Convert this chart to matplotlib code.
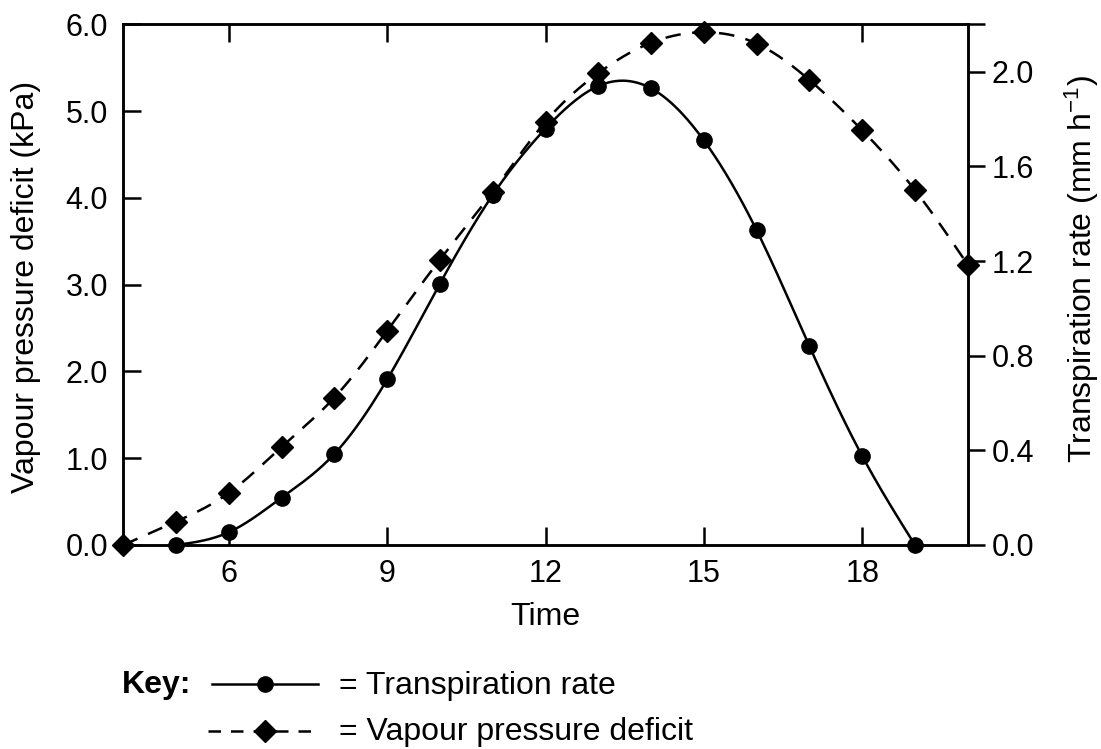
import numpy as np
import matplotlib
matplotlib.use("Agg")
import matplotlib.pyplot as plt
from matplotlib.lines import Line2D
from matplotlib.ticker import FormatStrFormatter

# ---- data ----
trans_hours = [5, 6, 7, 8, 9, 10, 11, 12, 13, 14, 15, 16, 17, 18, 19]
transpiration = [0.0, 0.054, 0.20, 0.385, 0.70, 1.105, 1.48, 1.76, 1.94, 1.93,
                 1.71, 1.33, 0.84, 0.376, 0.0]          # mm h-1 (right axis)
vpd_hours = [4, 5, 6, 7, 8, 9, 10, 11, 12, 13, 14, 15, 16, 17, 18, 19, 20]
vpd = [0.0, 0.27, 0.60, 1.13, 1.70, 2.47, 3.29, 4.07, 4.88, 5.44, 5.79, 5.91,
       5.78, 5.36, 4.78, 4.09, 3.23]                     # kPa (left axis)
x_ticks = [6, 9, 12, 15, 18]
left_ticks = [0.0, 1.0, 2.0, 3.0, 4.0, 5.0, 6.0]
right_ticks = [0.0, 0.4, 0.8, 1.2, 1.6, 2.0]


def natural_spline(x, y, n=400):
    """Smooth curve through the points (natural cubic spline) for drawing."""
    x = np.asarray(x, float)
    y = np.asarray(y, float)
    m = len(x)
    h = np.diff(x)
    A = np.zeros((m, m))
    r = np.zeros(m)
    A[0, 0] = A[-1, -1] = 1.0
    for i in range(1, m - 1):
        A[i, i - 1] = h[i - 1]
        A[i, i] = 2 * (h[i - 1] + h[i])
        A[i, i + 1] = h[i]
        r[i] = 3 * ((y[i + 1] - y[i]) / h[i] - (y[i] - y[i - 1]) / h[i - 1])
    c = np.linalg.solve(A, r)
    b = (y[1:] - y[:-1]) / h - h * (2 * c[:-1] + c[1:]) / 3
    d = (c[1:] - c[:-1]) / (3 * h)
    xs = np.linspace(x[0], x[-1], n)
    idx = np.clip(np.searchsorted(x, xs, side="right") - 1, 0, m - 2)
    t = xs - x[idx]
    ys = y[idx] + b[idx] * t + c[idx] * t ** 2 + d[idx] * t ** 3
    return xs, ys


plt.rcParams['font.family'] = ['Liberation Sans', 'DejaVu Sans']
plt.rcParams['mathtext.default'] = 'regular'

FS = 22
LFS = 23
LW = 1.8
SPINE_LW = 1.8
DASH = (0, (6.2, 4.6))

fig = plt.figure(figsize=(11.01, 7.49), dpi=100)
ax = fig.add_axes([0.112, 0.2724, 0.767, 0.6949])
ax2 = ax.twinx()

# curves
xs, ys = natural_spline(vpd_hours, vpd)
ax.plot(xs, ys, color='black', lw=LW, linestyle=DASH)
ax.plot(vpd_hours, vpd, linestyle='none', marker='D', ms=11.5, color='black',
        clip_on=False, zorder=5)

xs2, ys2 = natural_spline(trans_hours, transpiration)
ax2.plot(xs2, ys2, color='black', lw=LW)
ax2.plot(trans_hours, transpiration, linestyle='none', marker='o', ms=11,
         color='black', clip_on=False, zorder=5)

# axes ranges
ax.set_xlim(4, 20)
ax.set_ylim(0, 6.0)
ax2.set_ylim(0, 2.2)

ax.set_xticks(x_ticks)
ax.set_yticks(left_ticks)
ax.yaxis.set_major_formatter(FormatStrFormatter('%.1f'))
ax2.set_yticks(right_ticks)
ax2.yaxis.set_major_formatter(FormatStrFormatter('%.1f'))

ax.tick_params(axis='x', which='both', direction='in', top=True, bottom=True,
               length=13, width=SPINE_LW, labelsize=FS, pad=10)
ax.tick_params(axis='y', direction='in', left=True, right=False,
               length=13, width=SPINE_LW, labelsize=FS, pad=11)
ax2.tick_params(axis='y', direction='out', right=True, left=False,
                length=12, width=SPINE_LW, labelsize=FS, pad=5)

for a in (ax, ax2):
    for s in a.spines.values():
        s.set_linewidth(SPINE_LW)

# top spine extends past the right spine in the reference
ax.add_line(Line2D([1.0, 1.0 + 17 / 844.7], [1.0, 1.0], transform=ax.transAxes,
                   color='black', lw=SPINE_LW, clip_on=False,
                   solid_capstyle='butt'))

ax.set_xlabel('Time', fontsize=LFS)
ax.xaxis.set_label_coords(0.5, -0.11)
ax.set_ylabel('Vapour pressure deficit (kPa)', fontsize=LFS)
ax.yaxis.set_label_coords(-0.098, 0.495)
ax2.set_ylabel('Transpiration rate (mm h$^{-1}$)', fontsize=LFS)
ax2.yaxis.set_label_coords(1.112, 0.53)

# ---- key ----
W, H = 1101.0, 749.0


def fx(px):
    return px / W


def fy(py):
    return 1 - py / H


fig.text(fx(122), fy(685), 'Key:', fontsize=LFS, fontweight='bold',
         ha='left', va='center')
fig.add_artist(Line2D([fx(212), fx(318)], [fy(684), fy(684)],
                      transform=fig.transFigure, color='black', lw=LW))
fig.add_artist(Line2D([fx(265)], [fy(684)], transform=fig.transFigure,
                      marker='o', ms=11, color='black', linestyle='none'))
fig.text(fx(339), fy(686), '= Transpiration rate', fontsize=LFS,
         ha='left', va='center')

fig.add_artist(Line2D([fx(208), fx(320)], [fy(731), fy(731)],
                      transform=fig.transFigure, color='black', lw=LW,
                      linestyle=(0, (5.0, 4.0))))
fig.add_artist(Line2D([fx(265)], [fy(731)], transform=fig.transFigure,
                      marker='D', ms=11.5, color='black', linestyle='none'))
fig.text(fx(339), fy(732), '= Vapour pressure deficit', fontsize=LFS,
         ha='left', va='center')

fig.savefig('out.png', dpi=100)
